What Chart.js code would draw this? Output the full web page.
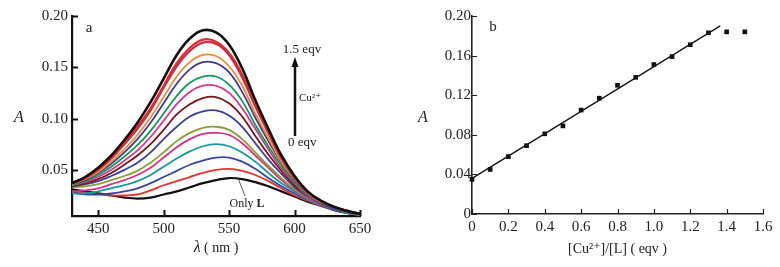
<!DOCTYPE html>
<html>
<head>
<meta charset="utf-8">
<script src="https://cdn.jsdelivr.net/npm/chart.js@4.4.0/dist/chart.umd.min.js"></script>
<style>
  body { margin: 0; background: #fff; }
  .panel { position: absolute; top: 0; width: 390px; height: 267px; }
  #left { left: 0; }
  #right { left: 390px; }
</style>
</head>
<body>
<div class="panel" id="left"><canvas id="spectra"></canvas></div>
<div class="panel" id="right"><canvas id="titration"></canvas></div>
<script>
// ---- panel a : absorption spectra ----
const wavelengths = [430, 440, 450, 460, 470, 480, 490, 500, 510, 520, 530, 540, 550, 560, 570, 580, 590, 600, 610, 620, 630, 640, 650]

const onlyL = [.031, .029, .027, .025, .023, .022, .023, .026, .029, .033, .037, .040, .042, .041, .038, .034, .029, .024, .019, .015, .011, .008, .006]
const eq01 = [.029, .027, .026, .025, .025, .026, .030, .035, .039, .043, .047, .050, .051, .049, .045, .039, .032, .025, .020, .015, .011, .008, .006]
const eq02 = [.028, .026, .026, .027, .029, .032, .037, .043, .049, .055, .059, .062, .062, .058, .051, .042, .034, .027, .021, .016, .011, .008, .006]
const eq03 = [.027, .027, .029, .032, .035, .039, .045, .053, .061, .068, .073, .075, .073, .067, .058, .047, .037, .029, .021, .016, .012, .008, .006]
const eq04 = [.029, .030, .032, .036, .040, .045, .052, .062, .072, .080, .085, .086, .084, .076, .064, .052, .040, .030, .022, .017, .012, .009, .006]
const eq05 = [.033, .034, .036, .040, .044, .049, .057, .067, .078, .086, .091, .092, .089, .080, .067, .054, .042, .031, .023, .017, .012, .009, .006]
const eq06 = [.034, .036, .039, .044, .050, .057, .067, .080, .092, .102, .107, .108, .103, .092, .076, .060, .046, .033, .024, .017, .012, .009, .007]
const eq07 = [.034, .037, .041, .047, .055, .064, .075, .089, .104, .114, .120, .121, .115, .102, .083, .065, .049, .035, .025, .018, .013, .009, .007]
const eq08 = [.035, .038, .043, .050, .059, .069, .082, .098, .114, .126, .132, .132, .125, .110, .090, .070, .051, .037, .025, .018, .013, .009, .007]
const eq09 = [.035, .039, .045, .053, .063, .074, .088, .105, .122, .135, .141, .141, .133, .117, .094, .073, .054, .038, .026, .019, .013, .009, .007]
const eq10 = [.036, .040, .047, .056, .067, .080, .096, .115, .134, .148, .155, .154, .145, .126, .101, .078, .057, .040, .027, .019, .013, .010, .007]
const eq11 = [.036, .041, .048, .058, .070, .084, .101, .121, .141, .155, .162, .161, .151, .132, .105, .081, .058, .041, .027, .019, .014, .010, .007]
const eq12 = [.037, .042, .050, .061, .075, .090, .108, .130, .151, .166, .174, .173, .162, .140, .112, .086, .061, .042, .028, .020, .014, .010, .007]
const eq13 = [.037, .042, .051, .062, .076, .092, .110, .132, .154, .169, .177, .175, .164, .143, .113, .087, .062, .043, .028, .020, .014, .010, .007]
const eq15 = [.037, .043, .052, .064, .079, .096, .116, .139, .162, .178, .186, .184, .172, .149, .118, .090, .064, .044, .029, .020, .014, .010, .007]

// top curve first so it is painted last (on top)
const spectra = [eq15, eq13, eq12, eq11, eq10, eq09, eq08, eq07, eq06, eq05, eq04, eq03, eq02, eq01, onlyL]
const spectraColors = ['#111111', '#e22a2a', '#c82a50', '#f08a30', '#3a3c9a', '#0f9a55', '#e2338c', '#7a1414',
                       '#3a3f9e', '#8c9e32', '#d92f8e', '#13999c', '#3646a6', '#e6322a', '#111111']
const spectraWidths = [2.6, 2.2, 2.2, 1.8, 1.8, 1.8, 1.8, 1.8, 1.8, 1.8, 1.8, 1.8, 1.8, 1.8, 2.2]

const leftXTicks = [450, 500, 550, 600, 650]
const leftYTicks = [0.05, 0.10, 0.15, 0.20]

// ---- panel b : titration ----
const ratio = [0, 0.1, 0.2, 0.3, 0.4, 0.5, 0.6, 0.7, 0.8, 0.9, 1.0, 1.1, 1.2, 1.3, 1.4, 1.5]
const absorb = [0.035, 0.045, 0.058, 0.069, 0.081, 0.089, 0.105, 0.117, 0.130, 0.138, 0.151, 0.159, 0.171, 0.183, 0.184, 0.184]
const fitX = [0, 1.365]
const fitY = [0.036, 0.190]

const rightXTicks = [0, 0.2, 0.4, 0.6, 0.8, 1.0, 1.2, 1.4, 1.6]
const rightYTicks = [0, 0.04, 0.08, 0.12, 0.16, 0.20]

const SERIF = '"Liberation Serif", "DejaVu Serif", serif'
const INK = '#222'


// tick marks pointing into the plot
function innerTicks(id, xs, ys, len, width, color)
{
  return {
    id: id,
    afterDraw(chart) {
      const ctx = chart.ctx
      const x = chart.scales.x, y = chart.scales.y
      ctx.save()
      ctx.strokeStyle = color
      ctx.lineWidth = width
      ctx.beginPath()
      xs.forEach(v => {
        const px = Math.round(x.getPixelForValue(v)) + 0.5
        ctx.moveTo(px, y.bottom)
        ctx.lineTo(px, y.bottom - len)
      })
      ys.forEach(v => {
        const py = Math.round(y.getPixelForValue(v)) + 0.5
        ctx.moveTo(x.left, py)
        ctx.lineTo(x.left + len, py)
      })
      ctx.stroke()
      ctx.restore()
    }
  }
}

function text(ctx, str, x, y, font, align)
{
  ctx.font = font
  ctx.textAlign = align || 'center'
  ctx.textBaseline = 'middle'
  ctx.fillText(str, x, y)
}

const leftNotes = {
  id: 'leftNotes',
  afterDraw(chart) {
    const ctx = chart.ctx
    const x = chart.scales.x
    ctx.save()
    ctx.fillStyle = INK
    text(ctx, 'A', 19, 118, 'italic 16px ' + SERIF)
    text(ctx, 'a', 89, 28, '15px ' + SERIF)

    // lambda axis title, italic symbol + plain unit
    ctx.font = 'italic 16px ' + SERIF
    const w1 = ctx.measureText('λ').width
    ctx.font = '14px ' + SERIF
    const w2 = ctx.measureText(' ( nm )').width
    const cx = (x.left + x.right) / 2
    text(ctx, 'λ', cx - (w1 + w2) / 2, 248, 'italic 16px ' + SERIF, 'left')
    text(ctx, ' ( nm )', cx - (w1 + w2) / 2 + w1, 248, '14px ' + SERIF, 'left')

    // Cu2+ arrow
    const ax = 295
    ctx.strokeStyle = '#111'
    ctx.lineWidth = 2.5
    ctx.beginPath()
    ctx.moveTo(ax, 136)
    ctx.lineTo(ax, 64)
    ctx.stroke()
    ctx.fillStyle = '#111'
    ctx.beginPath()
    ctx.moveTo(ax, 57)
    ctx.lineTo(ax - 3.5, 67)
    ctx.lineTo(ax + 3.5, 67)
    ctx.closePath()
    ctx.fill()

    ctx.fillStyle = INK
    text(ctx, '1.5 eqv', 302, 50, '13px ' + SERIF)
    text(ctx, 'Cu²⁺', 299, 98, '11px ' + SERIF, 'left')
    text(ctx, '0 eqv', 288, 143, '13px ' + SERIF, 'left')

    // "Only L" label with leader
    ctx.font = '12px ' + SERIF
    const wOnly = ctx.measureText('Only ').width
    ctx.font = 'bold 12px ' + SERIF
    const wL = ctx.measureText('L').width
    const lx = 247 - (wOnly + wL) / 2
    text(ctx, 'Only ', lx, 204, '12px ' + SERIF, 'left')
    text(ctx, 'L', lx + wOnly, 204, 'bold 12px ' + SERIF, 'left')
    ctx.strokeStyle = '#333'
    ctx.lineWidth = 0.8
    ctx.beginPath()
    ctx.moveTo(245, 196)
    ctx.lineTo(238, 178)
    ctx.stroke()
    ctx.restore()
  }
}

const rightNotes = {
  id: 'rightNotes',
  afterDraw(chart) {
    const ctx = chart.ctx
    const x = chart.scales.x
    ctx.save()
    ctx.fillStyle = INK
    text(ctx, 'A', 33, 118, 'italic 16px ' + SERIF)
    text(ctx, 'b', 103, 27, '15px ' + SERIF)
    text(ctx, '[Cu²⁺]/[L] ( eqv )', (x.left + x.right) / 2, 249, '14px ' + SERIF)
    ctx.restore()
  }
}

const noTicks = { display: false, drawTicks: false, tickLength: 0 }


const spectraChart = new Chart(document.getElementById('spectra'), {
  type: 'line',
  data: {
    datasets: spectra.map((s, i) => ({
      data: s.map((v, k) => ({ x: wavelengths[k], y: v })),
      borderColor: spectraColors[i],
      borderWidth: spectraWidths[i],
      pointRadius: 0,
      tension: 0.4,
      fill: false
    }))
  },
  options: {
    responsive: true,
    maintainAspectRatio: false,
    animation: false,
    layout: { padding: { left: 0, right: 30, top: 16, bottom: 0 } },
    plugins: { legend: { display: false }, tooltip: { enabled: false } },
    scales: {
      x: {
        type: 'linear', min: 430, max: 650,
        afterBuildTicks: s => { s.ticks = leftXTicks.map(v => ({ value: v })) },
        afterFit: s => { s.height = 51 },
        ticks: { color: INK, font: { family: SERIF, size: 15 }, padding: 4, maxRotation: 0 },
        grid: noTicks,
        border: { display: true, color: '#111', width: 2.2 }
      },
      y: {
        min: 0.005, max: 0.20,
        afterBuildTicks: s => { s.ticks = leftYTicks.map(v => ({ value: v })) },
        afterFit: s => { s.width = 72 },
        ticks: { color: INK, font: { family: SERIF, size: 15 }, padding: 4, callback: v => v.toFixed(2) },
        grid: noTicks,
        border: { display: true, color: '#111', width: 2.2 }
      }
    }
  },
  plugins: [innerTicks('leftTicks', leftXTicks, leftYTicks, 6, 2, '#111'), leftNotes]
})


const titrationChart = new Chart(document.getElementById('titration'), {
  type: 'scatter',
  data: {
    datasets: [
      {
        data: ratio.map((r, i) => ({ x: r, y: absorb[i] })),
        pointStyle: 'rect',
        pointRadius: 3.3,
        backgroundColor: '#111',
        borderColor: '#111',
        borderWidth: 0,
        clip: false
      },
      {
        type: 'line',
        data: fitX.map((v, i) => ({ x: v, y: fitY[i] })),
        borderColor: '#111',
        borderWidth: 1.3,
        pointRadius: 0,
        clip: false
      }
    ]
  },
  options: {
    responsive: true,
    maintainAspectRatio: false,
    animation: false,
    layout: { padding: { left: 0, right: 17, top: 16, bottom: 0 } },
    plugins: { legend: { display: false }, tooltip: { enabled: false } },
    scales: {
      x: {
        type: 'linear', min: 0, max: 1.6,
        afterBuildTicks: s => { s.ticks = rightXTicks.map(v => ({ value: v })) },
        afterFit: s => { s.height = 53 },
        ticks: { color: INK, font: { family: SERIF, size: 15 }, padding: 4, maxRotation: 0,
                 callback: v => v === 0 ? '0' : v.toFixed(1) },
        grid: noTicks,
        border: { display: true, color: '#222', width: 1.6 }
      },
      y: {
        min: 0, max: 0.20,
        afterBuildTicks: s => { s.ticks = rightYTicks.map(v => ({ value: v })) },
        afterFit: s => { s.width = 82 },
        ticks: { color: INK, font: { family: SERIF, size: 15 }, padding: 1,
                 callback: v => v === 0 ? '0' : v.toFixed(2) },
        grid: noTicks,
        border: { display: true, color: '#222', width: 1.6 }
      }
    }
  },
  plugins: [innerTicks('rightTicks', rightXTicks, rightYTicks, 5, 1.2, '#222'), rightNotes]
})
</script>
</body>
</html>
